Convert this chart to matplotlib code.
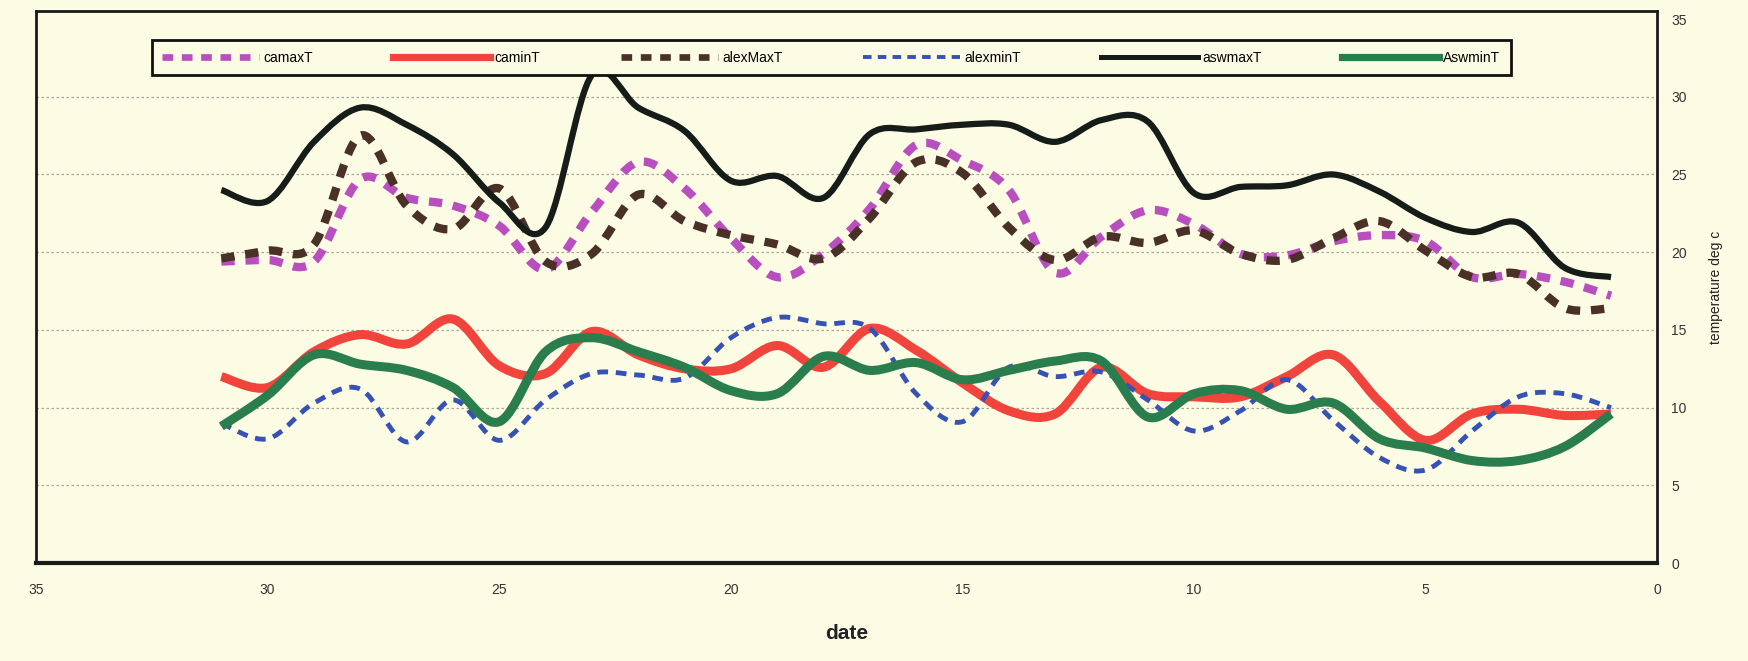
import matplotlib
matplotlib.use("Agg")
import matplotlib.pyplot as plt
from matplotlib.path import Path
from matplotlib.patches import PathPatch
from matplotlib.lines import Line2D
import numpy as np

# days run backwards, 31 down to 1
days = list(range(31, 0, -1))

camaxT = [19.4, 19.5, 19.4, 24.7, 23.5, 23.0, 21.7, 18.9, 22.6, 25.8,
          24.1, 20.9, 18.4, 19.9, 22.8, 26.9, 25.9, 24.0, 18.7, 21.0,
          22.7, 21.8, 19.9, 19.8, 20.7, 21.1, 20.7, 18.4, 18.6, 18.1, 17.2]
caminT = [12.0, 11.3, 13.6, 14.7, 14.1, 15.7, 12.7, 12.2, 14.9, 13.4,
          12.5, 12.5, 14.0, 12.6, 15.1, 13.7, 11.6, 9.8, 9.6, 12.6,
          10.9, 10.7, 10.7, 12.0, 13.4, 10.4, 7.9, 9.6, 9.9, 9.5, 9.6]
alexMaxT = [19.6, 20.1, 20.5, 27.5, 23.0, 21.5, 24.1, 19.4, 19.9, 23.7,
            22.0, 21.1, 20.5, 19.6, 22.2, 25.8, 25.1, 21.6, 19.5, 21.0,
            20.6, 21.4, 19.9, 19.5, 20.9, 22.0, 20.1, 18.4, 18.6, 16.4, 16.4]
alexminT = [9.0, 8.0, 10.3, 11.2, 7.8, 10.5, 7.9, 10.5, 12.2, 12.1,
            11.9, 14.5, 15.8, 15.4, 15.1, 10.9, 9.1, 12.6, 12.0, 12.3,
            10.5, 8.5, 9.8, 11.8, 9.2, 6.8, 6.0, 8.5, 10.7, 10.9, 10.0]
aswmaxT = [24.0, 23.3, 27.1, 29.3, 28.2, 26.3, 23.2, 21.6, 31.4, 29.3,
           27.8, 24.6, 24.9, 23.5, 27.6, 27.9, 28.2, 28.2, 27.1, 28.5,
           28.4, 23.8, 24.2, 24.3, 25.0, 23.9, 22.2, 21.3, 21.9, 19.0, 18.4]
AswminT = [8.8, 10.8, 13.4, 12.8, 12.4, 11.3, 9.1, 13.6, 14.5, 13.6,
           12.6, 11.1, 10.9, 13.3, 12.4, 12.9, 11.8, 12.4, 13.0, 13.0,
           9.4, 10.9, 11.1, 9.9, 10.3, 8.0, 7.4, 6.6, 6.6, 7.5, 9.6]

x_ticks = [0, 5, 10, 15, 20, 25, 30, 35]
y_ticks = [0, 5, 10, 15, 20, 25, 30, 35]

bg = "#fcfbe4"


def smooth_path(xs, ys):
    # Catmull-Rom style bezier, like the spreadsheet "smoothed line"
    p = np.column_stack([xs, ys]).astype(float)
    n = len(p)
    verts = [p[0]]
    codes = [Path.MOVETO]
    for i in range(n - 1):
        p0 = p[i - 1] if i > 0 else p[i]
        p3 = p[i + 2] if i + 2 < n else p[i + 1]
        c1 = p[i] + (p[i + 1] - p0) / 6.0
        c2 = p[i + 1] - (p3 - p[i]) / 6.0
        verts += [c1, c2, p[i + 1]]
        codes += [Path.CURVE4] * 3
    return Path(verts, codes)


series = [
    ("camaxT", camaxT, dict(color="#b94fbf", lw=6.0, ls=(0, (1.6, 1.3)))),
    ("caminT", caminT, dict(color="#f0443c", lw=6.5, ls="-")),
    ("alexMaxT", alexMaxT, dict(color="#4a3128", lw=6.0, ls=(0, (1.6, 1.3)))),
    ("alexminT", alexminT, dict(color="#3552b4", lw=3.5, ls=(0, (2.2, 1.6)))),
    ("aswmaxT", aswmaxT, dict(color="#161c18", lw=4.5, ls="-")),
    ("AswminT", AswminT, dict(color="#2a7d4c", lw=6.5, ls="-")),
]

plt.rcParams["font.family"] = ["Liberation Sans", "DejaVu Sans"]

fig = plt.figure(figsize=(17.49, 6.61), dpi=100, facecolor=bg)
ax = fig.add_axes([0.0206, 0.148, 0.927, 0.835])
ax.set_facecolor(bg)

handles = []
for name, vals, st in series:
    patch = PathPatch(smooth_path(days, vals), fill=False, edgecolor=st["color"],
                      lw=st["lw"], linestyle=st["ls"], capstyle="butt",
                      joinstyle="round", zorder=3)
    ax.add_patch(patch)
    handles.append(Line2D([], [], color=st["color"], lw=st["lw"] * 0.8,
                          linestyle=st["ls"], label=name))

ax.set_xlim(35, 0)
ax.set_ylim(0, 35.5)
ax.set_xticks(x_ticks)
ax.set_yticks(y_ticks)
ax.yaxis.tick_right()
ax.yaxis.set_label_position("right")
ax.tick_params(axis="both", length=0, labelsize=10, colors="#333333")
ax.tick_params(axis="x", pad=14)
ax.tick_params(axis="y", pad=10)

ax.yaxis.grid(True, linestyle=(0, (2, 2)), color="#a9a89a", lw=0.9)
ax.set_axisbelow(True)
# no gridline along the top edge
ax.yaxis.get_gridlines()[-1].set_visible(False)

for s in ax.spines.values():
    s.set_linewidth(2)
    s.set_color("#1a1a1a")
ax.spines["bottom"].set_linewidth(3)

ax.set_xlabel("date", fontsize=15, fontweight="bold", color="#222222", labelpad=20)
ax.set_ylabel("temperature deg c", fontsize=10, color="#222222", labelpad=16)

leg = ax.legend(handles=handles, ncol=6, loc="lower left",
                bbox_to_anchor=(0.067, 0.872, 0.847, 0.07), mode="expand",
                fontsize=10, handlelength=7, handletextpad=0.3, columnspacing=0.5,
                frameon=True, fancybox=False, borderpad=0.75)
leg.get_frame().set_edgecolor("#111111")
leg.get_frame().set_linewidth(2)
leg.get_frame().set_facecolor(bg)
leg.get_frame().set_alpha(1)

fig.savefig("out.png", dpi=100, facecolor=bg)
